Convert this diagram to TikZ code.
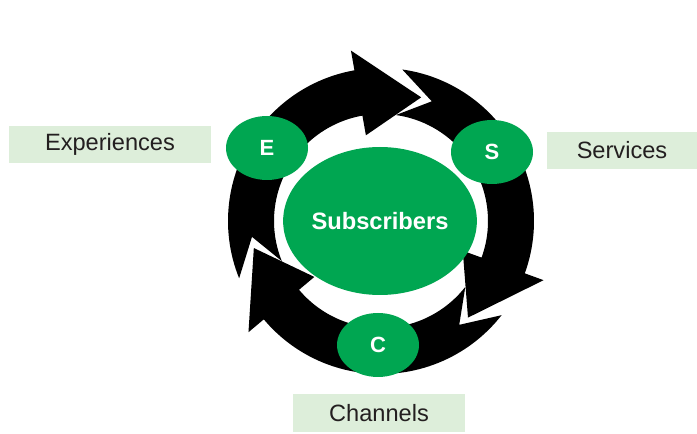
\documentclass[tikz,border=0pt]{standalone}
\usepackage{fontspec}
\setmainfont{Liberation Sans}
\usetikzlibrary{shapes.geometric}
\definecolor{subgreen}{RGB}{0,166,81}
\definecolor{tagfill}{RGB}{221,238,218}
\definecolor{tagtext}{RGB}{35,31,32}
\begin{document}
\begin{tikzpicture}[x=1pt, y=1pt,
  disc/.style={ellipse, fill=subgreen, text=white, inner sep=0pt,
    minimum width=82pt, minimum height=64pt,
    font=\fontsize{22}{26}\selectfont\bfseries},
  tag/.style={fill=tagfill, text=tagtext, inner sep=0pt, minimum height=37pt,
    font=\fontsize{23.6}{28}\selectfont}]
\useasboundingbox (0,0) rectangle (697,434);

% ring of three arrows
\begin{scope}[shift={(381,213)}]
\foreach \t in {72,-48,192}
{
    \fill[black] (\t+130:153pt) arc[start angle=\t+130, end angle=\t+28, radius=153pt]
      -- (\t+28:173pt) -- (\t:130pt) -- (\t+28:87pt) -- (\t+28:107pt)
      arc[start angle=\t+28, end angle=\t+130, radius=107pt]
      -- (\t+115:130pt) -- cycle;
}
\end{scope}

\node[disc, minimum width=176pt, minimum height=148pt,
  font=\fontsize{23.7}{28}\selectfont\bfseries] (subs) at (380,213) {Subscribers};
\node[disc] (e) at (267,286) {E};
\node[disc] (s) at (492,282) {S};
\node[disc] (c) at (378,89) {C};

\node[tag, minimum width=202pt] (exp) at (110,289.5) {Experiences};
\node[tag, minimum width=150pt] (serv) at (622,283.5) {Services};
\node[tag, minimum width=172pt, minimum height=38pt] (chan) at (379,21) {Channels};

\end{tikzpicture}
\end{document}
